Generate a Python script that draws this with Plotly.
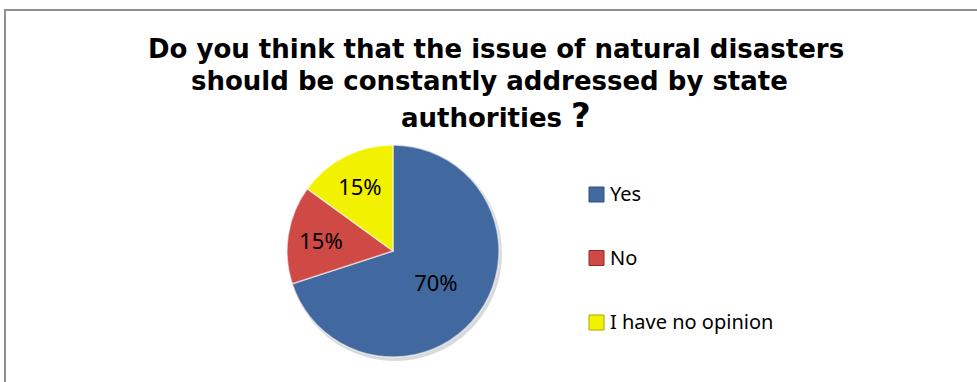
import plotly.graph_objects as go

# Survey answers and their shares
categories = ["Yes", "No", "I have no opinion"]
shares = [70, 15, 15]
slice_colors = ["#41699F", "#CF4A44", "#F2F200"]
edge_colors = ["#2E4E78", "#8E2A27", "#A8A800"]

title_lines = [
    "Do you think that the issue of natural disasters",
    "should be constantly addressed by state",
    "authorities <span style='font-size:34px'>?</span>",
]

W, H = 977, 382


def px(x):
    return x / W


def py(y):
    return 1 - y / H


cx, cy, r = 393, 251, 106

fig = go.Figure()
fig.add_trace(go.Pie(
    labels=categories,
    values=shares,
    sort=False,
    direction="clockwise",
    rotation=0,
    marker=dict(colors=slice_colors,
                line=dict(color="rgba(255,255,255,0.55)", width=1.5)),
    textinfo="percent",
    texttemplate="%{percent:.0%}",
    textposition="inside",
    insidetextorientation="horizontal",
    textfont=dict(family="Noto Sans", size=22, color="#000000"),
    domain=dict(x=[px(cx - r), px(cx + r)], y=[py(cy + r), py(cy - r)]),
    showlegend=False,
    hoverinfo="label+percent",
))

shapes = [
    # chart frame
    dict(type="rect", xref="paper", yref="paper",
         x0=px(5), x1=1.02, y0=-0.05, y1=py(10),
         line=dict(color="#8F8F8F", width=2), layer="below"),
    # soft drop shadow under the pie
    dict(type="circle", xref="paper", yref="paper",
         x0=px(cx - r + 1), x1=px(cx + r + 3), y0=py(cy + r + 4), y1=py(cy - r + 1),
         fillcolor="rgba(150,150,150,0.35)", line=dict(width=0), layer="below"),
]

annotations = []
title_pos = [(496, 66), (490, 98), (496, 137)]
for line, (xc, yb) in zip(title_lines, title_pos):
    annotations.append(dict(
        text="<b>" + line + "</b>", xref="paper", yref="paper",
        x=px(xc), y=py(yb), xanchor="center", yanchor="bottom",
        showarrow=False,
        font=dict(family="DejaVu Sans", size=26, color="#000000"),
    ))

# legend: coloured squares with category names
legend_y = [194.5, 258, 322.5]
for name, col, edge, ly in zip(categories, slice_colors, edge_colors, legend_y):
    shapes.append(dict(
        type="rect", xref="paper", yref="paper",
        x0=px(589), x1=px(604), y0=py(ly + 7.5), y1=py(ly - 7.5),
        fillcolor=col, line=dict(color=edge, width=1),
    ))
    annotations.append(dict(
        text=name, xref="paper", yref="paper",
        x=px(608), y=py(ly - 1), xanchor="left", yanchor="middle",
        showarrow=False,
        font=dict(family="Noto Sans", size=20, color="#000000"),
    ))

fig.update_layout(
    width=W, height=H,
    margin=dict(l=0, r=0, t=0, b=0),
    paper_bgcolor="#FFFFFF",
    plot_bgcolor="#FFFFFF",
    shapes=shapes,
    annotations=annotations,
)

fig.write_html("out.html")
